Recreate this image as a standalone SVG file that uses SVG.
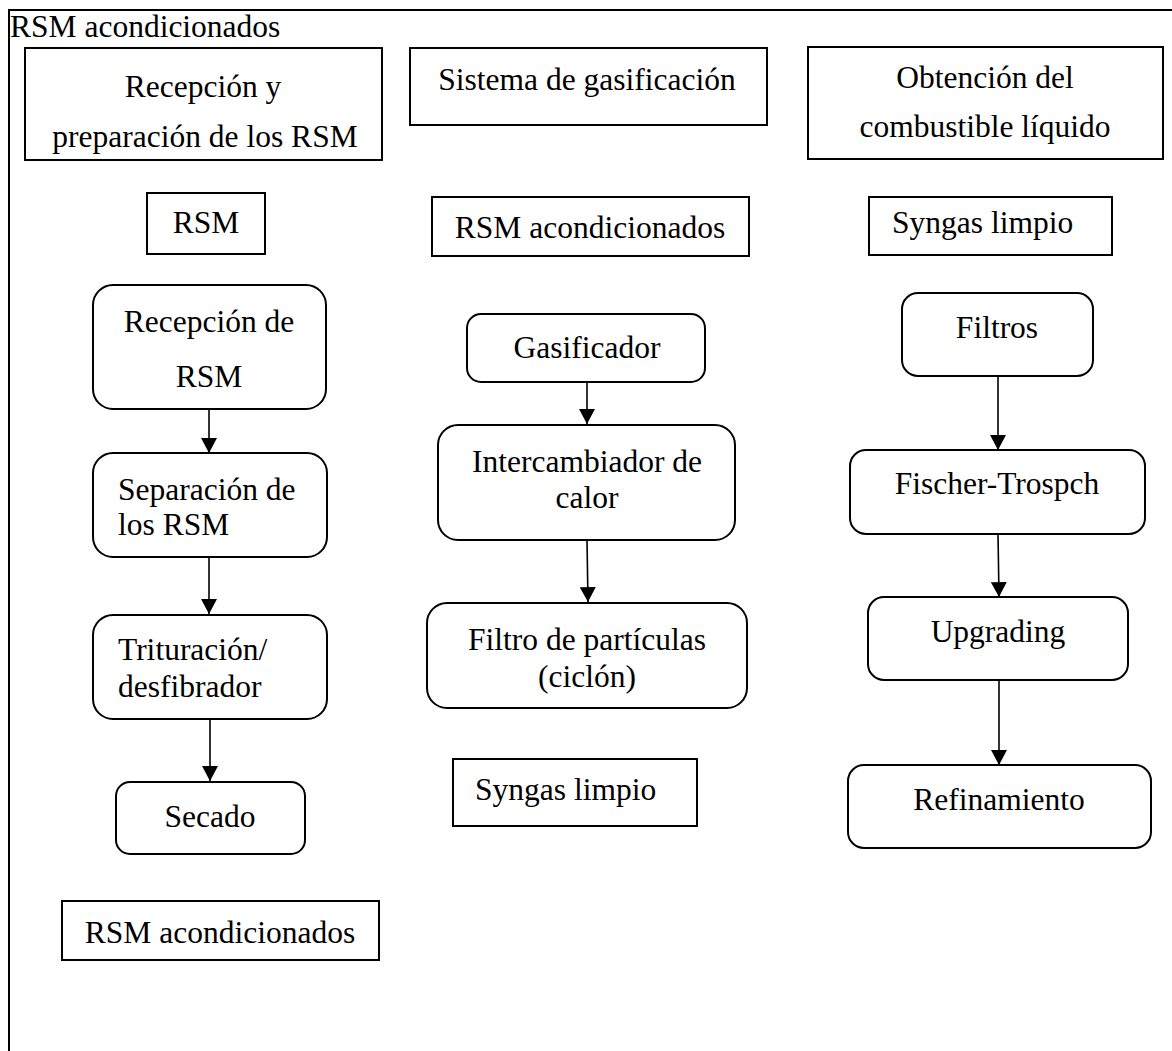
<svg xmlns="http://www.w3.org/2000/svg" width="1172" height="1051" viewBox="0 0 1172 1051" font-family="'Liberation Serif', 'Times New Roman', serif">
<style>
text{font-family:'Liberation Serif','Times New Roman',serif;font-size:31.5px;fill:#000}
.c{text-anchor:middle}
.box{fill:#fff;stroke:#000;stroke-width:2}
.conn{stroke:#000;stroke-width:1.6;fill:none}
</style>
<defs>
<marker id="ah" markerUnits="userSpaceOnUse" markerWidth="16" markerHeight="16" refX="14" refY="7.5" orient="auto" viewBox="0 0 14 15">
<path d="M0,0 L14,7.5 L0,15 z" fill="#000"/>
</marker>
</defs>
<rect width="1172" height="1051" fill="#fff"/>
<g id="frame">
<path d="M1172,10 L9,10 L9,1051" fill="none" stroke="#000" stroke-width="2"/>
<text x="10" y="37">RSM acondicionados</text>
</g>
<g id="connectors">
<line class="conn" x1="209" y1="409" x2="209" y2="453" marker-end="url(#ah)"/>
<line class="conn" x1="209" y1="557" x2="209" y2="614" marker-end="url(#ah)"/>
<line class="conn" x1="210" y1="719" x2="210" y2="781" marker-end="url(#ah)"/>
<line class="conn" x1="587" y1="382" x2="587" y2="424" marker-end="url(#ah)"/>
<line class="conn" x1="587" y1="540" x2="588" y2="602" marker-end="url(#ah)"/>
<line class="conn" x1="998" y1="376" x2="998" y2="450" marker-end="url(#ah)"/>
<line class="conn" x1="998" y1="534" x2="999" y2="597" marker-end="url(#ah)"/>
<line class="conn" x1="999" y1="680" x2="999" y2="765" marker-end="url(#ah)"/>
</g>
<g id="h1"><rect class="box" x="25" y="48" width="357" height="112"/><text class="c" x="203" y="97">Recepción y</text><text class="c" x="205" y="147">preparación de los RSM</text></g>
<g id="h2"><rect class="box" x="410" y="48" width="357" height="77"/><text class="c" x="587" y="90">Sistema de gasificación</text></g>
<g id="h3"><rect class="box" x="808" y="47" width="355" height="112"/><text class="c" x="985" y="88">Obtención del</text><text class="c" x="985" y="137">combustible líquido</text></g>
<g id="in1"><rect class="box" x="147" y="193" width="118" height="61"/><text class="c" x="206" y="233">RSM</text></g>
<g id="in2"><rect class="box" x="432" y="197" width="317" height="59"/><text class="c" x="590" y="238">RSM acondicionados</text></g>
<g id="in3"><rect class="box" x="869" y="197" width="243" height="58"/><text x="892" y="233">Syngas limpio</text></g>
<g id="n_recepcion"><rect class="box" x="93" y="285" width="233" height="124" rx="20"/><text class="c" x="209" y="332">Recepción de</text><text class="c" x="209" y="387">RSM</text></g>
<g id="n_separacion"><rect class="box" x="93" y="453" width="234" height="104" rx="20"/><text x="118" y="500">Separación de</text><text x="118" y="535">los RSM</text></g>
<g id="n_trituracion"><rect class="box" x="93" y="615" width="234" height="104" rx="20"/><text x="118" y="660">Trituración/</text><text x="118" y="697">desfibrador</text></g>
<g id="n_secado"><rect class="box" x="116" y="782" width="189" height="72" rx="14"/><text class="c" x="210" y="827">Secado</text></g>
<g id="out1"><rect class="box" x="62" y="901" width="317" height="59"/><text class="c" x="220" y="943">RSM acondicionados</text></g>
<g id="n_gasificador"><rect class="box" x="467" y="314" width="238" height="68" rx="14"/><text class="c" x="587" y="358">Gasificador</text></g>
<g id="n_intercambiador"><rect class="box" x="438" y="425" width="297" height="115" rx="20"/><text class="c" x="587" y="472">Intercambiador de</text><text class="c" x="587" y="508">calor</text></g>
<g id="n_filtro"><rect class="box" x="427" y="603" width="320" height="105" rx="20"/><text class="c" x="587" y="650">Filtro de partículas</text><text class="c" x="587" y="687">(ciclón)</text></g>
<g id="out2"><rect class="box" x="453" y="759" width="244" height="67"/><text x="475" y="800">Syngas limpio</text></g>
<g id="n_filtros"><rect class="box" x="902" y="293" width="191" height="83" rx="16"/><text class="c" x="997" y="338">Filtros</text></g>
<g id="n_fischer"><rect class="box" x="850" y="450" width="295" height="84" rx="16"/><text class="c" x="997" y="494">Fischer-Trospch</text></g>
<g id="n_upgrading"><rect class="box" x="868" y="597" width="260" height="83" rx="16"/><text class="c" x="998" y="642">Upgrading</text></g>
<g id="n_refinamiento"><rect class="box" x="848" y="765" width="303" height="83" rx="16"/><text class="c" x="999" y="810">Refinamiento</text></g>
</svg>
